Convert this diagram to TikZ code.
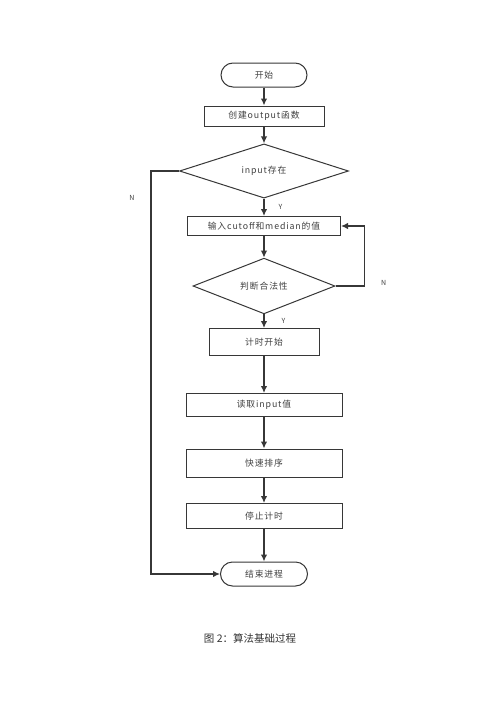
\documentclass[tikz,border=0pt]{standalone}
\usepackage{fontspec}
\newfontfamily\cjk[LetterSpace=10]{Noto Sans CJK SC}
\newfontfamily\capfont{Noto Sans CJK SC}
\usetikzlibrary{shapes,arrows,arrows.meta,positioning,calc}
\definecolor{linegray}{RGB}{55,55,55}
\tikzset{
block/.style = {draw=linegray, fill=white, rectangle, line width=1pt, inner sep=0pt, text=black!75, font=\cjk\fontsize{8.8}{8.8}\selectfont},
decision/.style = {draw=linegray, fill=white, diamond, line width=1pt, inner sep=0pt, text=black!75, font=\cjk\fontsize{8.8}{8.8}\selectfont},
term/.style = {draw=linegray, fill=white, rectangle, rounded corners=12pt, line width=1pt, inner sep=0pt, text=black!75, font=\cjk\fontsize{8.8}{8.8}\selectfont},
yn/.style = {inner sep=0pt, text=black!75, font=\cjk\fontsize{7}{7}\selectfont},
flow/.style = {->, draw=linegray, line width=1.3pt}
}
\begin{document}
\begin{tikzpicture}[auto, node distance=55pt, >={Latex[length=7pt,width=6.5pt]}]
	\path[use as bounding box] (0,0) rectangle (500pt,-707pt);
	\node[term, minimum width=86pt, minimum height=24pt] (start) at (264pt,-75pt) {开始};
	\node[block, below of=start, node distance=41pt, minimum width=120pt, minimum height=20pt] (create) {创建output函数};
	\node[decision, below of=create, minimum width=169pt, minimum height=31pt] (exist) {input存在};
	\node[block, below of=exist, node distance=55pt, minimum width=153pt, minimum height=19pt] (input) {输入cutoff和median的值};
	\node[decision, below of=input, node distance=60pt, minimum width=142pt, minimum height=35pt] (check) {判断合法性};
	\node[block, below of=check, node distance=56pt, minimum width=110pt, minimum height=27pt] (timer) {计时开始};
	\node[block, below of=timer, node distance=63pt, minimum width=156pt, minimum height=23pt] (read) {读取input值};
	\node[block, below of=read, node distance=58pt, minimum width=156pt, minimum height=28pt] (sort) {快速排序};
	\node[block, below of=sort, node distance=53pt, minimum width=156pt, minimum height=25pt] (stop) {停止计时};
	\node[term, below of=stop, node distance=58pt, minimum width=87pt, minimum height=24pt] (finish) {结束进程};
	\node[font=\capfont\fontsize{10.5}{10.5}\selectfont, text=black!80] (caption) at (250pt,-638pt) {图 2：算法基础过程};
	\draw[flow] (start) -- (create);
	\draw[flow] (create) -- (exist);
	\draw[flow] (exist) -- node[yn, right=14pt, name=yes1] {Y} (input);
	\draw[flow] (input) -- (check);
	\draw[flow] (check) -- node[yn, right=17pt, name=yes2] {Y} (timer);
	\draw[flow] (timer) -- (read);
	\draw[flow] (read) -- (sort);
	\draw[flow] (sort) -- (stop);
	\draw[flow] (stop) -- (finish);
	\draw[flow] (exist.west) -- ++(-28pt,0) node[yn, left=16pt, yshift=-27pt, name=no1] {N} |- (finish.west);
	\draw[flow] (check.east) -- ++(29pt,0) node[yn, right=16pt, yshift=3pt, name=no2] {N} |- (input.east);
\end{tikzpicture}
\end{document}
